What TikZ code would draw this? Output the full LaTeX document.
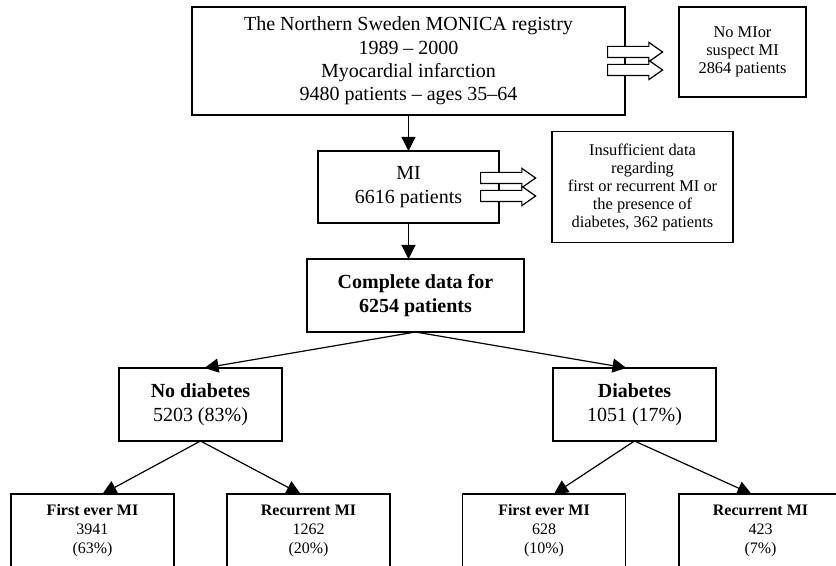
\documentclass[tikz,border=0pt]{standalone}
\usepackage{fontspec}
\setmainfont{Liberation Serif}
\usetikzlibrary{arrows.meta, positioning, shapes.arrows}

\begin{document}
\begin{tikzpicture}[
  box/.style={draw, fill=white, line width=0.6pt, outer sep=0pt, inner sep=0pt, align=center, font=\fontsize{10}{11.7}\selectfont},
  sidebox/.style={box, font=\fontsize{8.2}{9}\selectfont},
  leafbox/.style={box, minimum width=81.5pt, minimum height=37pt, font=\fontsize{8}{9.5}\selectfont},
  fat/.style={single arrow, draw, fill=white, line width=0.6pt, inner sep=2.5pt, minimum height=27.5pt, single arrow head extend=2pt, single arrow tip angle=70, single arrow head indent=0pt},
  link/.style={line width=0.6pt, -{Triangle[length=7pt,width=7pt]}}
]
\useasboundingbox (0,0) rectangle (418pt,-283pt);
\clip (0,0) rectangle (418pt,-283pt);

\node[box, minimum width=216.5pt, minimum height=54pt] (reg) at (204.25pt,-30.5pt) {The Northern Sweden MONICA registry\\1989 -- 2000\\Myocardial infarction\\9480 patients -- ages 35--64};
\node[box, minimum width=90.5pt, minimum height=36pt, below=18pt of reg] (mi) {MI\\6616 patients};
\node[box, minimum width=108.5pt, minimum height=36.5pt, below=18pt of mi, xshift=3.5pt, line width=1.1pt, font=\fontsize{10}{11.7}\selectfont\bfseries] (comp) {Complete data for\\6254 patients};
\node[box, minimum width=81.5pt, minimum height=36.5pt, below left=18pt and 12.5pt of comp] (nodiab) {\textbf{No diabetes}\\5203 (83\%)};
\node[box, minimum width=81.5pt, minimum height=36.5pt, below right=18pt and 14.5pt of comp] (diab) {\textbf{Diabetes}\\1051 (17\%)};

% leaves
\node[leafbox, below=26.5pt of nodiab, xshift=-54pt] (f1) {\textbf{First ever MI}\\3941\\(63\%)};
\node[leafbox, below=26.5pt of nodiab, xshift=54pt] (f2) {\textbf{Recurrent MI}\\1262\\(20\%)};
\node[leafbox, below=26.5pt of diab, xshift=-45.25pt] (f3) {\textbf{First ever MI}\\628\\(10\%)};
\node[leafbox, below=26.5pt of diab, xshift=63pt] (f4) {\textbf{Recurrent MI}\\423\\(7\%)};

% excluded
\node[sidebox, minimum width=63.5pt, minimum height=45pt, below right=0pt and 27pt of reg.north east] (nomi) {No MIor\\suspect MI\\2864 patients};
\node[sidebox, minimum width=90.5pt, minimum height=55.5pt, right=26.5pt of mi] (insuf) {Insufficient data\\regarding\\first or recurrent MI or\\the presence of\\diabetes, 362 patients};

\draw[link] (reg) -- (mi);
\draw[link] (mi) -- (mi.south |- comp.north);
\draw[link] (comp.south) -- ([xshift=2pt]nodiab.north);
\draw[link] (comp.south) -- ([xshift=-4pt]diab.north);
\draw[link] (nodiab.south) -- ([xshift=5pt]f1.north);
\draw[link] (nodiab.south) -- ([xshift=-4pt]f2.north);
\draw[link] (diab.south) -- ([xshift=5pt]f3.north);
\draw[link] (diab.south) -- ([xshift=-4.5pt]f4.north);

\node[fat, anchor=tail] (ra1) at ([xshift=-9pt, yshift=4.5pt]reg.east) {};
\node[fat, anchor=tail] (ra2) at ([xshift=-9pt, yshift=-4.5pt]reg.east) {};
\node[fat, anchor=tail] (ma1) at ([xshift=-9.5pt, yshift=4.5pt]mi.east) {};
\node[fat, anchor=tail] (ma2) at ([xshift=-9.5pt, yshift=-4.5pt]mi.east) {};
\end{tikzpicture}
\end{document}
